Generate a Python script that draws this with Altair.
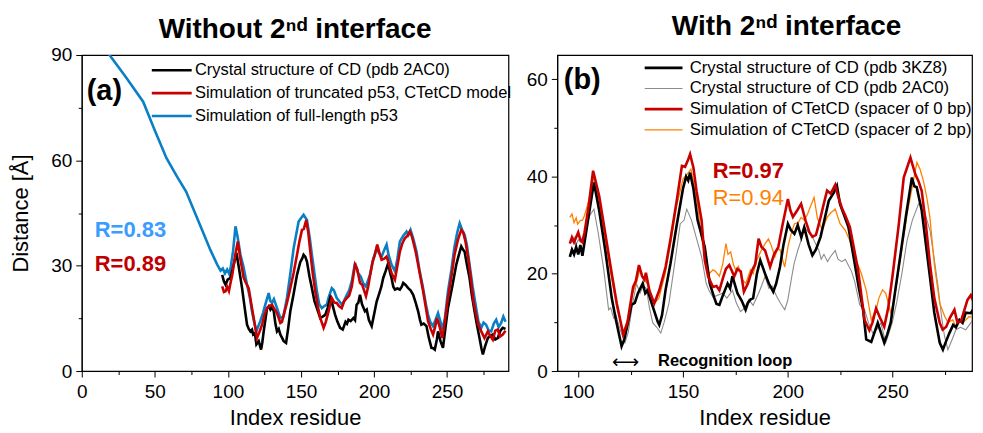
import altair as alt
import pandas as pd

# ---------------- Panel (a): Without 2nd interface ----------------
a_black_x = [96.1, 97.3, 98.4, 99.8, 101.8, 103.5, 105.9, 107.5, 109.7, 111.5, 113.1, 114.3, 115.4, 116.5, 117.3, 118.5,
             119.5, 121.1, 122.7, 123.5, 124.5, 126.8, 128.0, 129.1, 130.3, 131.4, 132.5, 133.6, 134.8, 135.9, 137.0,
             138.2, 139.8, 141.2, 142.7, 145.0, 147.3, 149.5, 150.8, 151.8, 153.0, 154.1, 155.8, 157.5, 159.2, 160.9,
             163.2, 164.8, 166.6, 168.3, 170.0, 171.5, 173.4, 175.0, 176.8, 178.6, 180.5, 181.5, 182.5, 184.0, 185.9,
             187.0, 188.1, 189.3, 190.4, 191.8, 193.8, 195.0, 196.5, 198.4, 200.0, 201.8, 203.5, 205.0, 206.3, 208.0,
             209.7, 211.0, 212.0, 213.2, 214.3, 216.0, 217.7, 219.0, 220.0, 221.6, 223.4, 225.0, 226.8, 228.5, 230.2,
             231.5, 232.4, 234.0, 235.9, 237.5, 239.3, 240.5, 241.6, 243.0, 243.8, 245.5, 247.2, 248.8, 250.6, 253.5,
             256.3, 258.0, 259.7, 261.0, 262.0, 263.5, 265.4, 267.0, 268.8, 270.5, 272.2, 273.5, 274.5, 276.0, 277.9,
             279.5, 281.3, 283.0, 284.7, 286.5, 288.1, 290.0]
a_black_y = [27.4, 25.5, 24.6, 26.0, 26.5, 29.5, 33.6, 29.5, 23.6, 18.0, 13.2, 12.0, 11.3, 11.8, 10.4, 10.8,
             7.6, 8.5, 6.1, 8.0, 11.3, 17.9, 18.5, 17.5, 18.2, 17.0, 13.5, 11.3, 12.0, 10.4, 9.5,
             8.5, 8.0, 12.0, 17.0, 22.0, 27.4, 31.0, 32.0, 33.1, 32.5, 31.2, 27.0, 23.6, 20.0, 17.9,
             15.1, 15.5, 16.0, 18.0, 20.8, 19.0, 16.0, 14.0, 12.3, 11.8, 14.0, 13.5, 14.6, 14.2, 15.1,
             14.5, 18.9, 19.5, 21.7, 19.0, 17.0, 17.5, 14.5, 12.8, 16.0, 19.8, 22.0, 24.0, 26.5, 28.5,
             30.7, 28.0, 26.5, 24.0, 23.2, 23.5, 23.2, 24.0, 25.1, 24.5, 23.6, 23.0, 21.7, 19.5, 17.0,
             14.5, 13.2, 13.5, 12.8, 9.5, 6.6, 6.5, 6.1, 9.0, 11.3, 8.5, 6.6, 12.0, 17.9, 24.0,
             30.3, 33.0, 35.5, 34.5, 34.0, 30.5, 26.5, 21.5, 17.0, 13.0, 9.4, 6.5, 4.7, 7.0, 9.4,
             10.0, 10.4, 9.0, 9.4, 11.5, 12.3, 12.0]

a_red_x = [96.1, 97.3, 98.4, 99.5, 100.7, 102.0, 103.0, 105.0, 106.8, 108.5, 110.8, 112.5, 114.2, 116.5, 118.3, 119.9,
           121.5, 123.4, 125.0, 126.8, 128.5, 130.2, 132.0, 133.6, 135.9, 137.0, 138.2, 140.5, 142.7, 145.0, 147.3,
           149.0, 150.7, 152.0, 153.6, 155.0, 156.4, 158.0, 159.8, 161.5, 163.2, 165.5, 167.0, 168.9, 171.1, 172.8,
           174.5, 176.0, 177.9, 179.5, 181.4, 183.0, 184.8, 187.0, 188.5, 190.4, 192.0, 194.5, 196.0, 197.2, 199.0,
           200.6, 202.2, 203.8, 205.2, 207.0, 208.6, 210.2, 212.0, 214.3, 216.0, 217.7, 219.5, 221.1, 222.8, 224.5,
           225.8, 226.8, 228.5, 230.2, 233.6, 235.5, 237.0, 238.8, 240.4, 241.8, 243.1, 245.0, 246.7, 248.5, 250.6,
           253.0, 255.1, 257.5, 259.7, 261.0, 262.6, 264.5, 266.5, 268.0, 269.9, 271.5, 273.4, 275.6, 277.0, 277.9,
           279.5, 281.3, 283.0, 284.7, 286.2, 288.1, 290.0]
a_red_y = [24.1, 22.5, 22.7, 24.0, 22.8, 25.5, 27.4, 33.0, 36.9, 32.0, 26.5, 25.0, 23.6, 17.9, 13.5, 9.4,
           11.0, 13.2, 16.0, 17.9, 18.5, 18.9, 17.5, 16.5, 13.7, 14.0, 16.0, 19.5, 23.6, 28.0, 33.1,
           37.0, 40.2, 40.5, 43.0, 39.5, 34.0, 28.0, 22.7, 18.5, 15.1, 12.3, 14.0, 17.0, 20.8, 19.5,
           19.4, 18.5, 17.9, 19.8, 20.8, 21.5, 24.1, 30.3, 29.0, 25.1, 24.5, 21.3, 24.0, 27.0, 31.0,
           33.1, 36.0, 33.5, 31.7, 32.0, 32.6, 30.5, 27.9, 26.0, 30.0, 34.0, 36.5, 37.8, 38.5, 39.7,
           38.5, 36.9, 34.0, 30.3, 22.7, 18.0, 14.2, 12.0, 10.4, 12.5, 15.1, 12.5, 9.4, 14.0, 20.8,
           27.0, 33.1, 37.5, 40.2, 39.5, 36.9, 32.0, 25.6, 20.0, 16.0, 13.0, 11.3, 9.4, 10.5, 11.3,
           10.0, 8.9, 11.5, 11.8, 9.8, 10.4, 11.5]

a_blue_x = [1, 19, 30, 42, 50, 58, 65, 71.4, 80, 88, 92.7, 95.0, 96.5, 98.0, 99.5, 101.0, 102.0, 103.5, 105.2, 106.5,
            108.6, 110.5, 113.1, 115.0, 116.5, 118.0, 119.5, 121.0, 122.2, 124.0, 125.6, 127.9, 129.0, 130.2, 131.5,
            133.6, 135.9, 138.0, 140.4, 142.5, 145.0, 148.4, 150.0, 151.8, 154.1, 156.0, 157.5, 160.9, 162.5, 164.3,
            166.0, 167.7, 169.0, 171.1, 172.5, 174.5, 176.0, 177.9, 179.5, 181.4, 183.0, 184.8, 187.0, 189.0, 191.0,
            192.5, 194.5, 197.2, 199.5, 201.8, 203.5, 205.2, 207.0, 208.6, 210.0, 212.0, 214.3, 216.0, 217.7, 220.0,
            222.3, 223.5, 225.0, 227.0, 229.1, 231.0, 233.6, 235.5, 237.0, 238.5, 240.4, 242.0, 243.8, 245.5, 246.7,
            248.5, 250.6, 253.0, 255.1, 257.0, 258.6, 260.5, 262.0, 263.5, 265.4, 267.5, 269.9, 271.5, 273.4, 275.0,
            276.7, 278.5, 280.2, 282.0, 283.6, 285.3, 287.0, 288.5, 290.0]
a_blue_y = [100.4, 90.0, 83.8, 76.7, 68.5, 60.6, 55.5, 51.1, 42.5, 34.5, 30.3, 28.6, 29.2, 27.8, 28.9, 27.6, 29.8, 34.0,
            41.2, 38.5, 33.1, 30.0, 24.6, 21.0, 17.0, 14.0, 11.3, 13.0, 14.2, 16.5, 18.9, 22.2, 20.0, 19.4, 20.5,
            17.9, 15.1, 15.5, 20.8, 27.0, 35.0, 42.6, 43.5, 44.5, 43.0, 38.0, 33.1, 22.7, 19.0, 17.9,
            18.5, 18.9, 21.0, 23.6, 23.0, 20.8, 20.0, 18.9, 20.0, 21.7, 23.0, 25.6, 30.8, 28.0, 26.8,
            25.0, 24.1, 27.4, 32.0, 35.0, 33.5, 32.6, 34.5, 36.0, 33.0, 30.3, 28.4, 32.0, 36.9, 38.5,
            39.7, 38.8, 40.2, 37.5, 34.0, 29.0, 23.6, 19.0, 16.0, 14.0, 12.8, 14.5, 16.5, 14.0, 11.8,
            15.0, 22.7, 29.0, 35.5, 39.5, 42.1, 40.0, 38.8, 36.0, 30.3, 24.0, 17.9, 14.0, 12.3, 13.8,
            13.2, 11.5, 11.3, 13.5, 14.6, 12.5, 13.7, 15.5, 14.0]

a_names = ["Crystal structure of CD (pdb 2AC0)",
           "Simulation of truncated p53, CTetCD model",
           "Simulation of full-length p53"]
a_colors = ["#000000", "#c80000", "#0a7fc6"]
a_widths = [2.6, 2.6, 2.6]

# ---------------- Panel (b): With 2nd interface ----------------
b_black_x = [96, 97, 98, 99, 100, 101, 102, 103, 105, 107.5, 110, 113, 116, 118, 120.7, 122, 124, 125.4, 127, 128.5,
             130.8, 132, 133.1, 135, 137.9, 138.7, 140, 141.7, 144, 147, 150, 151.5, 152.5, 153.4, 155, 157, 160.4,
             162.8, 165, 166, 167.4, 169, 171.3, 172.5, 173.6, 176, 178, 179.9, 181, 182.2, 183.5, 185.3, 186.9,
             189.2, 191, 193.1, 194.5, 196.3, 198, 200.1, 201.5, 203.2, 204.8, 206.5, 207.9, 210, 211.8, 213.5,
             215.7, 217.5, 219.6, 222, 223.5, 225, 227, 229, 232, 234, 236, 237.5, 239.9, 241.5, 243, 246.1, 247.5,
             249.2, 251.5, 253.9, 256.5, 259.3, 260.5, 261.6, 263, 264, 266, 267.9, 270, 272.6, 274.1, 275.5, 277.2,
             279, 280.3, 282, 283.5, 285, 287.4, 289]
b_black_y = [23.5, 25.0, 24.0, 25.5, 24.0, 25.9, 23.7, 26.5, 32.0, 38.8, 33.0, 24.5, 15.0, 10.5, 5.1, 6.5, 10.5, 13.6,
             14.0, 16.0, 18.0, 16.0, 16.6, 14.0, 10.2, 9.5, 11.5, 16.7, 22.0, 30.0, 37.5, 40.0, 39.2, 40.8, 37.5,
             31.0, 25.5, 18.0, 15.0, 13.8, 13.6, 15.5, 18.0, 17.0, 19.5, 16.0, 14.5, 12.6, 14.0, 14.7, 15.0, 20.0,
             22.8, 20.0, 18.0, 16.3, 18.0, 21.4, 26.0, 30.3, 29.0, 28.2, 30.0, 27.5, 29.6, 26.0, 23.8, 25.0, 27.6,
             31.0, 35.0, 36.7, 38.1, 34.3, 32.0, 29.6, 22.1, 17.0, 12.6, 6.5, 6.0, 8.0, 9.9, 5.8, 7.5, 10.0, 17.0,
             24.1, 32.0, 39.8, 38.0, 37.8, 35.0, 33.0, 26.0, 19.4, 12.0, 5.8, 4.4, 6.0, 7.8, 9.5, 9.0, 10.5, 9.9,
             12.0, 11.9, 13.0]

b_grey_x = [96, 97, 98, 99, 100, 101, 102, 103.5, 105.5, 107.5, 109.5, 112.2, 114.5, 115.5, 116.9, 118, 120, 122.3,
            123.9, 126, 127.8, 129.5, 131, 132.5, 134, 135.6, 137.5, 139.4, 141, 143.3, 146, 148.7, 150.5, 151.8,
            154.1, 156, 158.9, 161.1, 162.5, 164.3, 166, 168.9, 171, 173.6, 175.5, 177.5, 179.5, 181.4, 183.5,
            186.1, 187.5, 189.2, 191, 192.5, 194.7, 196.5, 198.6, 200, 201.7, 203, 204.8, 206.5, 207.9, 210,
            211.8, 213.5, 214.9, 216, 217.3, 219, 220.4, 222.7, 224, 225.8, 227.5, 228.9, 230.5, 232, 234.4, 236.7,
            238.5, 240.6, 242.5, 244.5, 246.8, 248.5, 249.9, 252, 254.5, 257, 259.5, 262.5, 264.8, 266.5, 267.9,
            270, 271.8, 273.5, 274.9, 276.5, 278.5, 280.3, 282.5, 285, 287.4, 289]
b_grey_y = [27.0, 26.5, 27.5, 26.0, 27.0, 26.5, 27.5, 29.0, 32.0, 33.3, 28.5, 20.8, 12.6, 13.0, 10.9, 11.5, 8.5, 5.8,
            8.0, 14.0, 18.0, 16.0, 17.5, 17.0, 13.0, 9.9, 9.0, 7.8, 10.0, 13.9, 22.0, 30.3, 31.0, 33.3,
            31.0, 28.0, 23.5, 18.0, 16.5, 15.2, 15.5, 16.0, 15.0, 16.6, 14.0, 12.2, 13.0, 14.7, 13.5,
            16.0, 17.5, 19.5, 17.0, 17.5, 15.4, 14.0, 12.6, 14.5, 18.8, 22.0, 24.8, 27.0, 29.6, 28.5,
            27.6, 26.0, 24.8, 23.0, 24.0, 22.5, 23.5, 24.8, 23.0, 22.5, 23.0, 21.8, 20.5, 18.4, 13.6, 12.6,
            10.0, 7.8, 8.5, 9.9, 5.8, 8.0, 9.9, 14.0, 20.0, 26.9, 31.0, 34.4, 33.7, 31.0, 29.0,
            23.0, 17.3, 11.0, 7.1, 4.4, 6.5, 8.5, 9.0, 8.5, 9.9, 11.0]

b_red_x = [96, 97, 98, 99, 100, 101, 102, 103, 105, 107.1, 110, 113.7, 116, 118.4, 121.5, 123.5, 126.2, 127.5, 129,
           130.5, 131.6, 132.3, 134, 136.3, 138.7, 141.7, 144, 147, 149.5, 151, 152.5, 153.4, 155, 156.5, 158.9,
           160.4, 162, 164.3, 166, 167.4, 169, 170.5, 172.1, 174.5, 176, 177.6, 179.1, 181, 183, 184.5, 186.1,
           187.5, 189.2, 191.6, 193.5, 195.5, 197.5, 200.1, 201.3, 202.5, 204.5, 206.4, 208.5, 210.3, 211.8, 213.5,
           215.7, 217, 218.8, 220.5, 222.7, 224, 225.8, 227.5, 229.7, 233.6, 236.7, 239, 240.5, 242.2, 244, 246.1,
           248, 250, 253, 255.4, 258.6, 260.9, 262.5, 264, 266, 267.9, 270, 272.6, 274, 275.7, 277.5, 279.6, 281,
           282.7, 284.3, 285.8, 287.4, 289]
b_red_y = [26.2, 27.5, 26.5, 27.5, 28.5, 27.0, 26.5, 28.5, 34.0, 41.2, 36.0, 26.2, 20.0, 13.9, 7.5, 10.0, 17.3, 18.5,
           21.8, 19.5, 18.8, 20.2, 16.5, 13.9, 16.6, 21.4, 27.0, 35.0, 42.2, 42.0, 43.5, 44.6, 41.8, 37.0, 31.0,
           22.8, 19.5, 17.3, 17.5, 16.6, 19.0, 21.0, 21.8, 19.5, 21.0, 20.5, 16.3, 18.0, 20.7, 22.0, 27.2,
           25.5, 24.8, 21.4, 24.0, 25.5, 30.0, 35.4, 33.0, 31.7, 33.0, 34.4, 31.0, 28.6, 27.6, 28.0,
           31.6, 34.0, 37.1, 36.5, 38.3, 36.0, 33.6, 32.0, 29.6, 20.8, 10.5, 8.4, 10.0, 12.9, 11.0, 9.1,
           13.0, 19.4, 30.0, 39.8, 43.9, 40.5, 39.0, 37.0, 30.0, 22.1, 15.0, 9.9, 8.5, 9.1, 11.0, 12.6, 10.0,
           10.2, 12.5, 14.6, 15.6, 14.0]

b_orange_x = [96, 97, 98, 99, 99.7, 101, 102, 103, 105, 107, 110, 113.5, 116, 118.5, 121.5, 123.5, 126, 128, 129.5,
              131, 133, 135, 136.5, 138.5, 141.5, 144, 147, 150, 152, 153.8, 155, 157, 159, 161, 162.5, 164.3,
              165.5, 167.4, 169, 170.5, 171.5, 172.8, 174, 175.2, 176.5, 178.3, 180, 182.2, 183.5, 185.3, 187,
              189.2, 190.8, 192, 193.9, 195, 196.3, 197.5, 198.6, 200.1, 201.5, 203.2, 205, 206.4, 208, 209.5, 211,
              212.6, 214.2, 216.5, 218.8, 220.5, 222.7, 225, 227.4, 229.5, 232, 235.2, 237.5, 239.9, 241, 242.2,
              243.5, 245.3, 246.8, 249.2, 250.5, 252.3, 254.5, 257, 259.5, 261.7, 263.2, 264.8, 266.3, 267.9, 270,
              272.6, 275, 276.5, 278.8, 280.5, 282, 283.5, 285, 286.6, 288.5]
b_orange_y = [31.6, 32.3, 30.5, 31.5, 30.2, 31.0, 31.0, 32.0, 35.0, 40.0, 35.0, 25.5, 19.0, 13.0, 8.0, 10.5, 16.0, 18.5,
              21.0, 19.0, 18.0, 15.5, 14.0, 15.0, 20.0, 26.0, 34.0, 39.5, 40.5, 41.5, 39.0, 34.0, 27.0, 22.5,
              20.0, 20.8, 20.5, 19.5, 22.0, 26.2, 24.0, 24.5, 22.0, 20.8, 21.5, 18.8, 18.0, 20.8, 20.0, 22.8,
              24.5, 26.2, 27.2, 26.0, 23.5, 25.0, 25.0, 23.0, 21.4, 25.5, 28.0, 30.3, 30.5, 31.6, 31.0, 32.3,
              34.0, 35.7, 31.4, 29.0, 31.6, 32.5, 33.3, 30.3, 29.0, 27.0, 23.5, 20.0, 16.6, 10.5, 11.5, 12.5,
              15.0, 16.7, 16.0, 12.0, 14.0, 18.8, 25.0, 32.3, 38.0, 42.9, 41.5, 39.1, 36.0, 31.6, 22.0,
              13.9, 11.2, 10.0, 10.5, 9.0, 10.5, 9.9, 10.5, 11.2, 11.0]

b_names = ["Crystal structure of CD (pdb 3KZ8)",
           "Crystal structure of CD (pdb 2AC0)",
           "Simulation of CTetCD (spacer of 0 bp)",
           "Simulation of CTetCD (spacer of 2 bp)"]
b_colors = ["#000000", "#8c8c8c", "#c80000", "#ff8000"]
b_widths = [2.6, 1.1, 2.6, 1.3]

# annotation tables (data coordinates)
a_ann_x = [3.4, 8.9, 8.9]
a_ann_y = [79.6, 40.1, 30.5]
a_ann_t = ["(a)", "R=0.83", "R=0.89"]

b_ann_x = [93.1, 164.2, 164.2, 122.6, 138.1]
b_ann_y = [59.8, 41.2, 35.5, 1.9, 2.0]
b_ann_t = ["(b)", "R=0.97", "R=0.94", "\u27f7", "Recognition loop"]

FONT = "Liberation Sans"
# legend symbol: a horizontal stroke drawn from a small symbol box (keeps legend rows compact)
LINE_SYMBOL = "M-1,0L7,0"


def frame(names, xs_list, ys_list):
    parts = []
    for n, xs, ys in zip(names, xs_list, ys_list):
        parts.append(pd.DataFrame({"res": xs, "dist": ys, "series": n}))
    return pd.concat(parts, ignore_index=True)


def minor_axis(title, values, major_mod, label_pad=4, title_pad=4):
    return alt.Axis(
        title=title, values=values,
        labelExpr=f"datum.value % {major_mod} == 0 ? datum.label : ''",
        tickSize={"condition": {"test": f"datum.value % {major_mod} == 0", "value": 6}, "value": 3.5},
        grid=False, labelFont=FONT, labelFontSize=19, labelColor="black",
        titleFont=FONT, titleFontSize=22, titleFontWeight="normal", titleColor="black",
        domainColor="black", tickColor="black", tickWidth=1, labelPadding=label_pad, titlePadding=title_pad,
        labelFlush=False, labelOverlap=False,
    )


def build_panel(df, names, colors, widths, draw_order, xdom, ydom, xaxis, yaxis, legend, texts):
    cscale = alt.Scale(domain=names, range=colors)
    wscale = alt.Scale(type="ordinal", domain=names, range=widths)
    xenc = alt.X("res:Q", scale=alt.Scale(domain=xdom, nice=False, zero=False), axis=xaxis)
    yenc = alt.Y("dist:Q", scale=alt.Scale(domain=ydom, nice=False), axis=yaxis)
    layers = []
    for n in draw_order:
        layers.append(
            alt.Chart(df).transform_filter(alt.datum.series == n).mark_line(clip=True).encode(
                x=xenc, y=yenc,
                color=alt.Color("series:N", scale=cscale, legend=legend),
                strokeWidth=alt.StrokeWidth("series:N", scale=wscale, legend=legend),
            )
        )
    for (x, y, t, size, color, weight, align, font) in texts:
        d = pd.DataFrame({"res": [x], "dist": [y], "t": [t]})
        layers.append(
            alt.Chart(d).mark_text(align=align, baseline="middle", fontSize=size, fontWeight=weight,
                                   color=color, font=font).encode(x=xenc, y=yenc, text="t:N")
        )
    return alt.layer(*layers)


# ---- left panel
a_df = frame(a_names, [a_black_x, a_red_x, a_blue_x], [a_black_y, a_red_y, a_blue_y])
a_legend = alt.Legend(title=None, orient="none", legendX=67, legendY=7, symbolType=LINE_SYMBOL, symbolSize=100,
                      labelFont=FONT, labelFontSize=16.5, labelColor="black", labelOffset=30, rowPadding=6,
                      padding=0, labelLimit=500)
a_texts = [
    (a_ann_x[0], a_ann_y[0], a_ann_t[0], 29, "black", "bold", "left", FONT),
    (a_ann_x[1], a_ann_y[1], a_ann_t[1], 22, "#3a9cff", "bold", "left", FONT),
    (a_ann_x[2], a_ann_y[2], a_ann_t[2], 22, "#c00000", "bold", "left", FONT),
]
left = build_panel(a_df, a_names, a_colors, a_widths, [a_names[2], a_names[0], a_names[1]],
                   [0, 292], [0, 90],
                   minor_axis("Index residue", list(range(0, 290, 25)), 50, label_pad=6, title_pad=6),
                   minor_axis("Distance [Å]", list(range(0, 91, 15)), 30, label_pad=4, title_pad=18),
                   a_legend, a_texts).properties(
    width=428, height=317,
    title=alt.TitleParams("Without 2\u207f\u1d48 interface", fontSize=28, fontWeight="bold", font=FONT,
                          color="black", anchor="middle", offset=2.5),
)

# ---- right panel
b_df = frame(b_names, [b_black_x, b_grey_x, b_red_x, b_orange_x], [b_black_y, b_grey_y, b_red_y, b_orange_y])
b_legend = alt.Legend(title=None, orient="none", legendX=84, legendY=4.5, symbolType=LINE_SYMBOL, symbolSize=90,
                      labelFont=FONT, labelFontSize=16.8, labelColor="black", labelOffset=32, rowPadding=2.7,
                      padding=0, labelLimit=500)
b_texts = [
    (b_ann_x[0], b_ann_y[0], b_ann_t[0], 29, "black", "bold", "left", FONT),
    (b_ann_x[1], b_ann_y[1], b_ann_t[1], 22, "#c00000", "bold", "left", FONT),
    (b_ann_x[2], b_ann_y[2], b_ann_t[2], 22, "#ff8000", "normal", "left", FONT),
    (b_ann_x[3], b_ann_y[3], b_ann_t[3], 19, "black", "normal", "center", "DejaVu Sans"),
    (b_ann_x[4], b_ann_y[4], b_ann_t[4], 16.5, "black", "bold", "left", FONT),
]
right = build_panel(b_df, b_names, b_colors, b_widths, [b_names[1], b_names[3], b_names[0], b_names[2]],
                    [90, 288], [0, 65],
                    minor_axis("Index residue", list(range(100, 290, 25)), 50, label_pad=6, title_pad=6),
                    minor_axis(None, list(range(0, 61, 10)), 20),
                    b_legend, b_texts).properties(
    width=416, height=317,
    title=alt.TitleParams("With 2\u207f\u1d48 interface", fontSize=28, fontWeight="bold", font=FONT,
                          color="black", anchor="middle", offset=14.5, dx=22),
)

chart = alt.hconcat(left, right, spacing=49, bounds="flush").resolve_scale(
    color="independent", strokeWidth="independent", x="independent", y="independent"
).properties(
    padding={"left": 1, "top": 2.5, "right": 2, "bottom": 0}
).configure_view(stroke="black", strokeWidth=1.2)

chart.save("out.html", embed_options={"renderer": "svg", "actions": False})
